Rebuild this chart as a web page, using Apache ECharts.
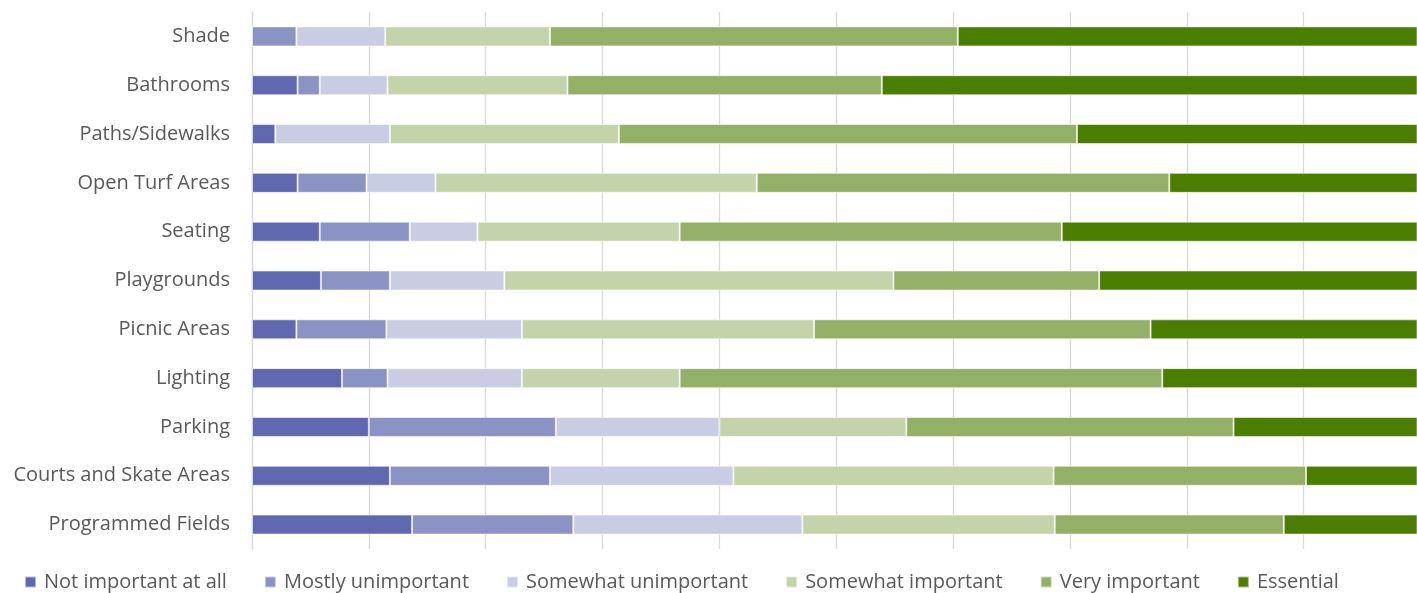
<!DOCTYPE html>
<html>
<head>
<meta charset="utf-8">
<script src="https://cdn.jsdelivr.net/npm/echarts@6/dist/echarts.min.js"></script>
<style>
html,body{margin:0;padding:0;background:#fff;}
#chart{width:1417px;height:593px;}
</style>
</head>
<body>
<div id="chart"></div>
<script>
const categories = ["Shade","Bathrooms","Paths/Sidewalks","Open Turf Areas","Seating","Playgrounds","Picnic Areas","Lighting","Parking","Courts and Skate Areas","Programmed Fields"];
const seriesNames = ["Not important at all","Mostly unimportant","Somewhat unimportant","Somewhat important","Very important","Essential"];
const notImportant      = [0,   3.9, 2.0, 3.9, 5.8, 5.9, 3.8, 7.7, 10.0, 11.8, 13.7];
const mostlyUnimportant = [3.8, 1.9, 0,   5.9, 7.7, 5.9, 7.7, 3.9, 16.0, 13.7, 13.8];
const somewhatUnimp     = [7.6, 5.8, 9.8, 5.9, 5.8, 9.8, 11.6, 11.5, 14.0, 15.7, 19.6];
const somewhatImportant = [14.1, 15.4, 19.6, 27.5, 17.3, 33.3, 25.0, 13.5, 16.0, 27.4, 21.6];
const veryImportant     = [34.9, 26.9, 39.2, 35.3, 32.7, 17.6, 28.8, 41.3, 28.0, 21.6, 19.6];
const essential         = [39.6, 46.1, 29.4, 21.5, 30.7, 27.5, 23.1, 22.1, 16.0, 9.8, 11.7];
const seriesValues = [notImportant, mostlyUnimportant, somewhatUnimp, somewhatImportant, veryImportant, essential];
const colors = ["#6069b0","#8b93c5","#c9cde4","#c4d4aa","#93b067","#4a7d00"];
// the reference plot is cropped just before 100%; visible extent ends at ~99.7
const axisMax = 99.7;
const gridColors = ['#d9d9d9','#d9d9d9','#d9d9d9','#d9d9d9','#d9d9d9','#d9d9d9','#d9d9d9','#d9d9d9','#d9d9d9','#d9d9d9','rgba(0,0,0,0)'];

const chart = echarts.init(document.getElementById('chart'), null, {renderer:'canvas'});
chart.setOption({
  animation: false,
  backgroundColor: '#ffffff',
  color: colors,
  grid: {left: 252, right: 0, top: 12, bottom: 44, containLabel: false},
  legend: {
    data: seriesNames,
    left: 19,
    top: 567,
    icon: 'rect',
    itemWidth: 11,
    itemHeight: 11,
    itemGap: 37,
    textStyle: {fontFamily: 'Open Sans', fontSize: 20, color: '#595959', padding: [0,0,0,3]}
  },
  xAxis: {
    type: 'value', min: 0, max: axisMax, interval: 10,
    axisLabel: {show: false},
    axisTick: {show: false},
    axisLine: {show: false},
    splitLine: {show: true, lineStyle: {color: gridColors, width: 1.3}}
  },
  yAxis: {
    type: 'category', data: categories, inverse: true,
    axisTick: {show: false},
    axisLine: {show: true, lineStyle: {color: '#d9d9d9', width: 1.3}},
    axisLabel: {fontFamily: 'Open Sans', fontSize: 20, color: '#595959', margin: 22}
  },
  series: seriesNames.map((name, i) => ({
    name: name,
    type: 'bar',
    stack: 'total',
    barWidth: 20,
    clip: true,
    data: seriesValues[i],
    itemStyle: {color: colors[i], borderColor: 'rgba(255,255,255,0.55)', borderWidth: 1}
  }))
});
</script>
</body>
</html>
